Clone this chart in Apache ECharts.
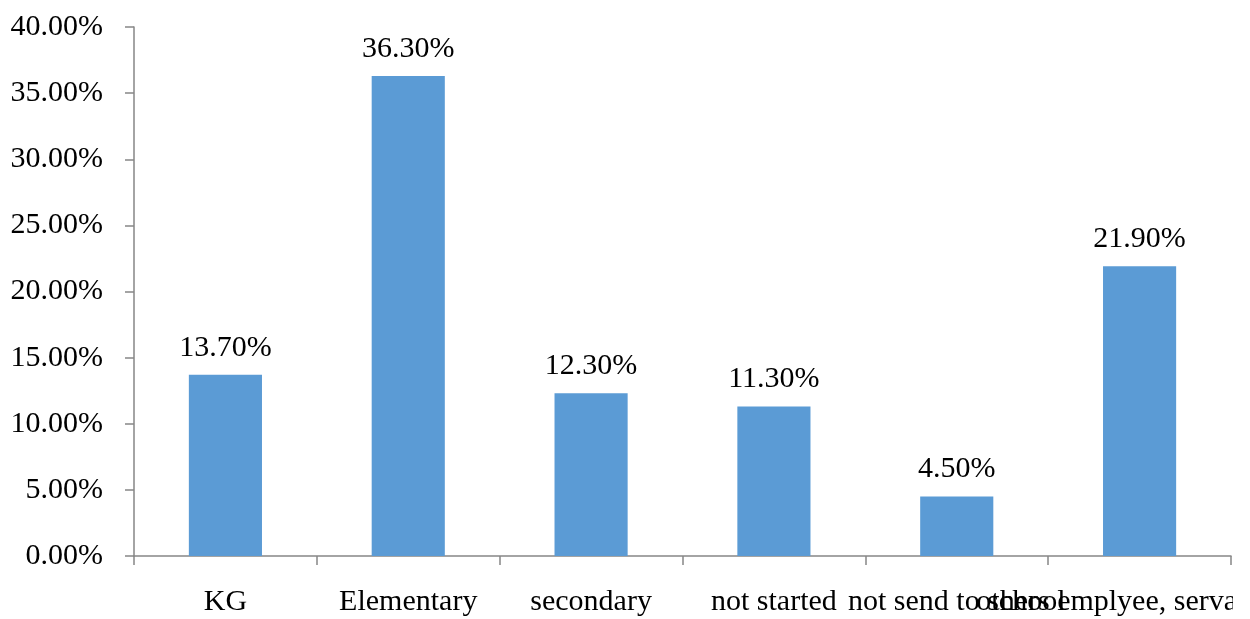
<!DOCTYPE html>
<html>
<head>
<meta charset="utf-8">
<script src="https://cdn.jsdelivr.net/npm/echarts@6/dist/echarts.min.js"></script>
<style>
    html, body { margin: 0; padding: 0; background: #fff; }
    #chart { width: 1233px; height: 619px; overflow: hidden; }
</style>
</head>
<body>
<div id="chart"></div>
<script>
    var categories = ['KG', 'Elementary', 'secondary', 'not started', 'not send to school', 'others emplyee, servant etc'];
    var values = [13.7, 36.3, 12.3, 11.3, 4.5, 21.9];

    var chart = echarts.init(document.getElementById('chart'));
    var font = 'Liberation Serif';
    var fs = 30;

    var option = {
        backgroundColor: '#fff',
        animation: false,
        grid: {
            left: 134,
            right: 2,
            top: 27,
            bottom: 63,
            containLabel: false,
            outerBoundsMode: 'none'
        },
        xAxis: {
            type: 'category',
            data: categories,
            axisLine: { lineStyle: { color: '#868686', width: 1.5 } },
            axisTick: { show: true, length: 9, lineStyle: { color: '#868686', width: 1.5 } },
            axisLabel: {
                interval: 0,
                margin: 31,
                color: '#000',
                fontFamily: font,
                fontSize: fs,
                hideOverlap: false
            }
        },
        yAxis: {
            type: 'value',
            min: 0,
            max: 40,
            interval: 5,
            splitLine: { show: false },
            axisLine: { show: true, lineStyle: { color: '#868686', width: 1.5 } },
            axisTick: { show: true, length: 9, lineStyle: { color: '#868686', width: 1.5 } },
            axisLabel: {
                margin: 31,
                color: '#000',
                fontFamily: font,
                fontSize: fs,
                formatter: function (v) { return v.toFixed(2) + '%'; }
            }
        },
        series: [{
            type: 'bar',
            data: values,
            barWidth: '40%',
            itemStyle: { color: '#5B9BD5' },
            label: {
                show: true,
                position: 'top',
                distance: 12,
                color: '#000',
                fontFamily: font,
                fontSize: fs,
                formatter: function (p) { return p.value.toFixed(2) + '%'; }
            }
        }]
    };

    chart.setOption(option);
</script>
</body>
</html>
